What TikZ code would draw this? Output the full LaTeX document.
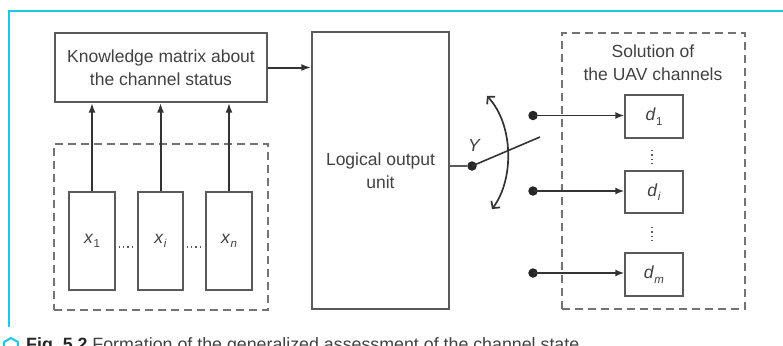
\documentclass[tikz,border=0pt]{standalone}
\usepackage{fontspec}
\setmainfont{Liberation Sans}
\usetikzlibrary{arrows.meta,shapes.geometric,calc}
\definecolor{framecyan}{RGB}{25,200,225}
\definecolor{linegray}{RGB}{90,90,90}
\definecolor{txtgray}{RGB}{65,65,65}
\newcommand{\varsub}[2]{\textit{#1}\kern0.3pt\raisebox{-4.5pt}{\fontsize{11.5}{11.5}\selectfont #2}}
\begin{document}
\begin{tikzpicture}[x=1pt,y=-1pt,
  box/.style={draw=linegray,line width=1.3pt,fill=white,inner sep=0pt,text=txtgray,align=center,font=\fontsize{17.5}{23}\selectfont},
  dbox/.style={draw=linegray!85,line width=1.3pt,dash pattern=on 8pt off 5pt,inner sep=0pt},
  arr/.style={draw=black!80,line width=2pt,-{Latex[length=10pt,width=7pt]}},
  arrthin/.style={draw=black!80,line width=1.7pt,-{Latex[length=9pt,width=7pt]}},
  blob/.style={circle,fill=black!85,inner sep=0pt,minimum size=9.5pt},
  dotsline/.style={draw=linegray,line width=1.2pt,dash pattern=on 1.3pt off 3pt},
  lbl/.style={text=txtgray,align=center,font=\fontsize{17.5}{23}\selectfont,inner sep=0pt}
]
\useasboundingbox (0,0) rectangle (783,345);
% frame
\draw[framecyan,line width=2pt] (9,327) -- (9,11) -- (783,11);
% dashed groups
\node[dbox,minimum width=214pt,minimum height=166pt] (ldash) at (161,227) {};
\node[dbox,minimum width=183pt,minimum height=276pt] (rdash) at (653.5,171) {};
% knowledge box
\node[box,minimum width=212pt,minimum height=69pt] (know) at (161,67.5) {Knowledge matrix about\\the channel status};
% x boxes
\node[box,minimum width=46pt,minimum height=98pt] (x1) at (92,241) {\varsub{x}{1}};
\node[box,minimum width=45pt,minimum height=98pt] (xi) at (160.5,241) {\varsub{x}{\textit{i}}};
\node[box,minimum width=46pt,minimum height=98pt] (xn) at (229,241) {\varsub{x}{\textit{n}}};
\draw[dotsline] ($(x1.east)+(3,6)$) -- ($(xi.west)+(-2,6)$);
\draw[dotsline] ($(xi.east)+(3,6)$) -- ($(xn.west)+(-2,6)$);
\draw[arr] (x1.north) -- (x1.north |- know.south);
\draw[arr] (xi.north) -- (xi.north |- know.south);
\draw[arr] (xn.north) -- (xn.north |- know.south);
% logical output unit
\node[box,minimum width=137pt,minimum height=277pt] (logic) at (380.5,170.5) {Logical output\\unit};
\draw[arr] (know.east) -- (know.east -| logic.west);
% switch
\node[blob] (ydot) at (472,166) {};
\node[lbl,font=\fontsize{17.5}{20}\selectfont\itshape] (ylab) at (474,145) {Y};
\draw[linegray,line width=1.3pt] (logic.east |- ydot) -- (ydot);
\coordinate (swend) at (540,137);
\draw[black!80,line width=1.6pt] (ydot.center) -- (swend);
\coordinate (swtop) at (487,96);
\coordinate (swbot) at (492,209);
\draw[black!80,line width=1.7pt,{Straight Barb[length=5pt,width=11pt]}-{Straight Barb[length=5pt,width=11pt]}] (swtop) .. controls (514,125) and (514,180) .. (swbot);
% solution title
\node[lbl] (soltitle) at (653,63) {Solution of\\the UAV channels};
% d boxes
\node[box,minimum width=58pt,minimum height=43pt] (d1) at (654,116.5) {\varsub{d}{1}};
\node[box,minimum width=58pt,minimum height=42pt] (di) at (654,192) {\varsub{d}{\textit{i}}};
\node[box,minimum width=58pt,minimum height=43pt] (dm) at (654,274.5) {\varsub{d}{\textit{m}}};
\draw[dotsline] (652,150) -- (652,165);
\draw[dotsline] (652,227) -- (652,242);
\node[blob] (o1) at (533,115.5) {};
\node[blob] (oi) at (533,191) {};
\node[blob] (om) at (533,273) {};
\draw[arrthin] (o1.center) -- (o1 -| d1.west);
\draw[arrthin] (oi.center) -- (oi -| di.west);
\draw[arrthin] (om.center) -- (om -| dm.west);
% caption (cut off at bottom, as in the reference)
\begin{scope}
\clip (0,0) rectangle (783,345);
\node[regular polygon,regular polygon sides=6,shape border rotate=30,draw=framecyan,line width=2pt,minimum size=16pt,inner sep=0pt] (icon) at (11,346) {};
\node[anchor=base west,inner sep=0pt,text=txtgray,font=\fontsize{17.8}{20}\selectfont] (cap) at (26,350) {\textbf{\color{black!85}Fig.~5.2} Formation of the generalized assessment of the channel state};
\end{scope}
\end{tikzpicture}
\end{document}
